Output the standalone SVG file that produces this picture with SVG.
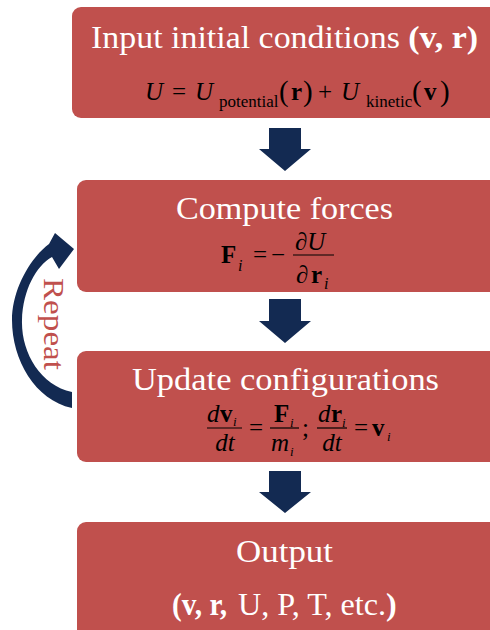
<svg xmlns="http://www.w3.org/2000/svg" width="490" height="630" viewBox="0 0 490 630">
<style>
.box{fill:#C0504D}
.t{font-family:"Liberation Serif","Times New Roman",serif;fill:#fff;font-size:32px}
.m{font-family:"Liberation Serif","Times New Roman",serif;fill:#000;font-size:25px}
.it{font-style:italic}
.b{font-weight:bold}
.arr{fill:#132A52}
.fl{stroke:#000;stroke-width:1.2}
</style>
<rect width="490" height="630" fill="#fff"/>
<g id="connectors">
<polygon class="arr" points="269,128 301,128 301,149 311,149 285,171 259,149 269,149"/>
<polygon class="arr" points="269,299 301,299 301,321 311,321 285,343 259,321 269,321"/>
<polygon class="arr" points="269,471 301,471 301,492 311,492 285,513 259,492 269,492"/>
<path class="arr" d="M72,392 C40,385 21,352 22,320 C23,290 36,266 52,257 L59,269 L74,249 L55,233 L49,244 C30,258 12,290 12,320 C12,360 35,400 72,408 Z"/>
<text transform="translate(44,324) rotate(90)" text-anchor="middle" font-family="Liberation Serif, Times New Roman, serif" font-size="29" fill="#C0504D" textLength="92" lengthAdjust="spacingAndGlyphs">Repeat</text>
</g>
<g id="node1">
<rect class="box" x="72" y="7" width="440" height="111" rx="9"/>
<text class="t" x="91" y="48" textLength="387" lengthAdjust="spacingAndGlyphs">Input initial conditions <tspan class="b">(v, r)</tspan></text>
<text class="m" y="100" font-size="27"><tspan class="it" x="145">U</tspan><tspan x="172">=</tspan><tspan class="it" x="195">U</tspan><tspan x="219" y="107" font-size="17">potential</tspan><tspan x="279" y="101" font-size="29">(</tspan><tspan class="b" x="291" y="100">r</tspan><tspan x="303" y="101" font-size="29">)</tspan><tspan x="318" y="100">+</tspan><tspan class="it" x="341">U</tspan><tspan x="366" y="107" font-size="17">kinetic</tspan><tspan x="412" y="101" font-size="29">(</tspan><tspan class="b" x="424" y="100">v</tspan><tspan x="440" y="101" font-size="29">)</tspan></text>
</g>
<g id="node2">
<rect class="box" x="77" y="180" width="430" height="112" rx="9"/>
<text class="t" x="176" y="219" textLength="217" lengthAdjust="spacingAndGlyphs">Compute forces</text>
<text class="m" font-size="27"><tspan class="b" x="221" y="263">F</tspan><tspan class="it" x="238" y="271" font-size="16">i</tspan><tspan x="253" y="263">=</tspan><tspan x="271" y="263">−</tspan></text>
<line class="fl" x1="293" y1="255" x2="334" y2="255"/>
<text class="m it" font-size="27" x="295" y="250">∂U</text>
<text class="m" font-size="27"><tspan class="it" x="296" y="283">∂</tspan><tspan class="b" x="311" y="283">r</tspan><tspan class="it" x="324" y="289" font-size="16">i</tspan></text>
</g>
<g id="node3">
<rect class="box" x="77" y="351" width="430" height="111" rx="9"/>
<text class="t" x="132" y="390" textLength="307" lengthAdjust="spacingAndGlyphs">Update configurations</text>
<line class="fl" x1="207" y1="428" x2="242" y2="428"/>
<text class="m" font-size="24"><tspan class="it" x="207" y="422">d</tspan><tspan class="b" x="220" y="422">v</tspan><tspan class="it" x="233" y="426" font-size="13">i</tspan></text>
<text class="m it" font-size="24" x="225" y="451" text-anchor="middle">dt</text>
<text class="m" font-size="24" x="249" y="436">=</text>
<line class="fl" x1="270" y1="428" x2="299" y2="428"/>
<text class="m" font-size="24"><tspan class="b" x="274" y="422">F</tspan><tspan class="it" x="290" y="427" font-size="13">i</tspan></text>
<text class="m" font-size="24"><tspan class="it" x="271" y="451">m</tspan><tspan class="it" x="290" y="456" font-size="13">i</tspan></text>
<text class="m" font-size="24" x="302" y="436">;</text>
<line class="fl" x1="317" y1="428" x2="347" y2="428"/>
<text class="m" font-size="24"><tspan class="it" x="318" y="422">d</tspan><tspan class="b" x="331" y="422">r</tspan><tspan class="it" x="342" y="427" font-size="13">i</tspan></text>
<text class="m it" font-size="24" x="332" y="451" text-anchor="middle">dt</text>
<text class="m" font-size="24" x="354" y="436">=</text>
<text class="m" font-size="24"><tspan class="b" x="372" y="436">v</tspan><tspan class="it" x="387" y="441" font-size="13">i</tspan></text>
</g>
<g id="node4">
<rect class="box" x="77" y="522" width="430" height="130" rx="9"/>
<text class="t" x="236" y="562" textLength="97" lengthAdjust="spacingAndGlyphs">Output</text>
<text class="t b" x="172" y="615" textLength="55" lengthAdjust="spacingAndGlyphs">(v, r,</text>
<text class="t" x="238" y="615" textLength="148" lengthAdjust="spacingAndGlyphs">U, P, T, etc.</text>
<text class="t b" x="386" y="615">)</text>
</g>
</svg>
